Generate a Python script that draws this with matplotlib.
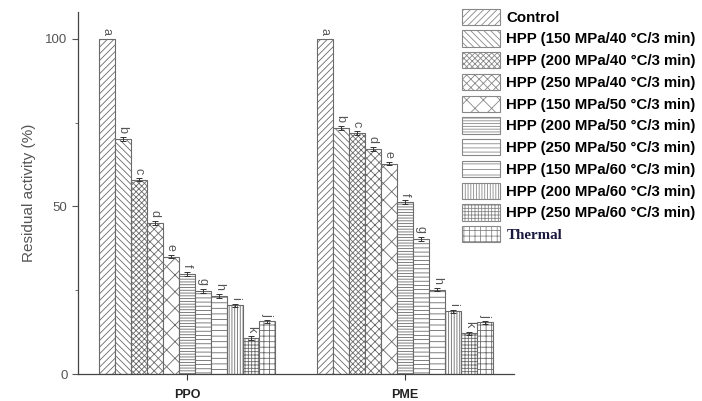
import numpy as np
import matplotlib
matplotlib.use("Agg")
import matplotlib.pyplot as plt
from matplotlib.patches import Patch

plt.rcParams['font.family'] = ['Liberation Sans', 'DejaVu Sans']
plt.rcParams['hatch.linewidth'] = 0.6

# data
groups = ["PPO", "PME"]
treatments = ["Control",
              "HPP (150 MPa/40 °C/3 min)", "HPP (200 MPa/40 °C/3 min)",
              "HPP (250 MPa/40 °C/3 min)", "HPP (150 MPa/50 °C/3 min)",
              "HPP (200 MPa/50 °C/3 min)", "HPP (250 MPa/50 °C/3 min)",
              "HPP (150 MPa/60 °C/3 min)", "HPP (200 MPa/60 °C/3 min)",
              "HPP (250 MPa/60 °C/3 min)", "Thermal"]
ppo = [100, 70, 58, 45, 35, 30, 24.8, 23.3, 20.5, 10.8, 15.7]
pme = [100, 73.3, 71.8, 67.2, 62.8, 51.2, 40.3, 25.2, 18.7, 12.2, 15.4]
ppo_err = [0, 0.6, 0.5, 0.6, 0.5, 0.6, 0.5, 0.5, 0.5, 0.5, 0.5]
pme_err = [0, 0.6, 0.6, 0.6, 0.5, 0.6, 0.5, 0.5, 0.5, 0.5, 0.5]
ppo_letters = ["a", "b", "c", "d", "e", "f", "g", "h", "i", "k", "j"]
pme_letters = ["a", "b", "c", "d", "e", "f", "g", "h", "i", "k", "j"]

hatches = ['/////', '\\\\\\\\\\', 'xxxxxx', 'xxxx', 'xx', '------', '----', '---',
           '||||||', '+++++', '+++']

fig = plt.figure(figsize=(7.02, 4.01), dpi=100)
ax = fig.add_axes([0.111, 0.067, 0.621, 0.903])

w = 0.0737
ec = '#6a6a6a'
grey = '#555555'
for g, (vals, errs, lets) in enumerate([(ppo, ppo_err, ppo_letters), (pme, pme_err, pme_letters)]):
    for i in range(len(treatments)):
        x = g + (i - 5) * w
        ax.bar(x, vals[i], width=w, color='white', edgecolor=ec, hatch=hatches[i], linewidth=0.8)
        if errs[i] > 0:
            ax.errorbar(x, vals[i], yerr=errs[i], fmt='none', ecolor='#333333', elinewidth=0.7,
                        capsize=2.5, capthick=0.7)
        ax.text(x, vals[i] + errs[i] + 1.2, lets[i], rotation=-90, ha='center', va='bottom',
                fontsize=9, color=grey)

ax.set_xlim(-0.5, 1.5)
ax.set_ylim(0, 108)
ax.set_xticks([0, 1])
ax.set_xticklabels(groups, fontweight='bold', fontsize=9, color='#222222')
ax.set_yticks([0, 50, 100])
ax.set_yticks([25, 75], minor=True)
ax.tick_params(axis='y', labelsize=9.5, colors=grey, length=4)
ax.tick_params(axis='y', which='minor', length=2.5, color=grey)
ax.tick_params(axis='x', length=4, color='#333333', pad=6.5)
ax.set_ylabel("Residual activity (%)", fontsize=11, color=grey, labelpad=7)
for s in ['top', 'right']:
    ax.spines[s].set_visible(False)
for s in ['left', 'bottom']:
    ax.spines[s].set_color('#444444')
    ax.spines[s].set_linewidth(0.9)

handles = [Patch(facecolor='white', edgecolor='#888888', hatch=h, linewidth=0.8) for h in hatches]
leg = fig.legend(handles, treatments, loc='upper left', bbox_to_anchor=(0.652, 0.99),
                 frameon=False, prop={'weight': 'bold', 'size': 10.8},
                 handlelength=2.54, handleheight=1.3, labelspacing=0.36, handletextpad=0.4,
                 borderpad=0.3, borderaxespad=0.0)
t = leg.get_texts()[-1]
t.set_family(['Liberation Serif', 'DejaVu Serif'])
t.set_color('#1a1a40')

fig.savefig("out.png", dpi=100)
